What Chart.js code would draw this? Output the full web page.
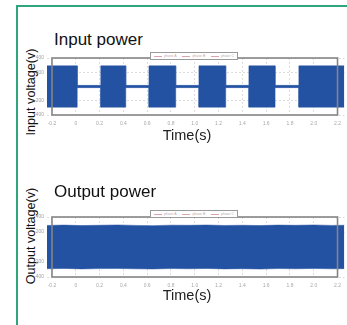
<!DOCTYPE html>
<html>
<head>
<meta charset="utf-8">
<script src="https://cdn.jsdelivr.net/npm/chart.js@4/dist/chart.umd.min.js"></script>
<style>
  html, body { margin: 0; padding: 0; background: #fff; }
  body { width: 347px; height: 325px; position: relative; overflow: hidden;
         font-family: 'Liberation Sans', Arial, sans-serif; }
  .frame-top { position: absolute; left: 16px; top: 5px; width: 331px; height: 2px; background: #2fa57c; }
  .frame-left { position: absolute; left: 16px; top: 5px; width: 2px; height: 320px; background: #2fa57c; }
  .title { position: absolute; left: 54px; font-size: 17px; color: #111; line-height: 1; }
  .ylab { position: absolute; font-size: 12.6px; color: #111; white-space: nowrap; line-height: 1;
          transform: translate(-50%, -50%) rotate(-90deg); }
  .xlab { position: absolute; font-size: 14.5px; color: #222; line-height: 1; transform: translateX(-50%); }
  .box { position: absolute; width: 347px; height: 160px; left: 0; }
  .legend { position: absolute; left: 150px; width: 86px; height: 6px; background: #fff;
            border: 1px solid #9a9a9a; display: flex; align-items: center; justify-content: space-around;
            font-size: 3.5px; color: #b9a9ad; }
  .legend span::before { content: ''; display: inline-block; width: 8px; height: 1px;
                         background: #d9a3ad; vertical-align: middle; margin-right: 2px; }
</style>
</head>
<body>
<div class="frame-top"></div>
<div class="frame-left"></div>

<div class="title" style="top:31px">Input power</div>
<div class="ylab" style="left:31px; top:92px">Input voltage(v)</div>
<div class="box" style="top:0"><canvas id="inputChart"></canvas></div>
<div class="xlab" style="left:187px; top:128px">Time(s)</div>
<div class="legend" style="top:52px"><span>phase A</span><span>phase B</span><span>phase C</span></div>

<div class="title" style="top:183px">Output power</div>
<div class="ylab" style="left:31px; top:236px">Output voltage(v)</div>
<div class="box" style="top:160px"><canvas id="outputChart"></canvas></div>
<div class="xlab" style="left:187px; top:288px">Time(s)</div>
<div class="legend" style="top:210px"><span>phase A</span><span>phase B</span><span>phase C</span></div>

<script>
// axis ticks
const xTicks = [-0.2, 0, 0.2, 0.4, 0.6, 0.8, 1, 1.2, 1.4, 1.6, 1.8, 2, 2.2];
const yTicks = [-400, -200, 200, 400];

// input voltage envelope (switching on/off bursts)
const inputTime  = [-0.242, 0.012, 0.012, 0.21, 0.21, 0.42, 0.42, 0.615, 0.615, 0.84, 0.84, 1.035, 1.035, 1.26, 1.26, 1.455, 1.455, 1.675, 1.675, 1.875, 1.875, 2.258];
const inputUpper = [290, 290, 16, 16, 290, 290, 16, 16, 290, 290, 16, 16, 290, 290, 16, 16, 290, 290, 16, 16, 290, 290];
const inputLower = [-290, -290, -16, -16, -290, -290, -16, -16, -290, -290, -16, -16, -290, -290, -16, -16, -290, -290, -16, -16, -290, -290];

// output voltage envelope (steady with small ripple)
const outputTime  = [-0.242, -0.1, 0.05, 0.2, 0.35, 0.5, 0.65, 0.8, 0.95, 1.1, 1.25, 1.4, 1.55, 1.7, 1.85, 2.0, 2.15, 2.258];
const outputUpper = [288, 292, 286, 290, 294, 288, 285, 291, 289, 293, 287, 290, 286, 292, 289, 294, 288, 290];
const outputLower = [-290, -286, -292, -288, -285, -291, -293, -287, -290, -286, -292, -289, -294, -287, -290, -286, -291, -289];

const BLUE = '#2452a3';

const frameBox = {
  id: 'frameBox',
  afterDraw(chart) {
    const { ctx, chartArea, scales } = chart;
    const l = scales.x.getPixelForValue(xTicks[0]);
    const r = scales.x.getPixelForValue(xTicks[xTicks.length - 1]);
    ctx.save();
    ctx.strokeStyle = '#858585';
    ctx.lineWidth = 1.6;
    ctx.strokeRect(l, chartArea.top, r - l, chartArea.bottom - chartArea.top);
    ctx.restore();
  }
};

function makeChart(id, time, upper, lower, topPad, bottomH) {
  const pts = (arr) => time.map((t, i) => ({ x: t, y: arr[i] }));
  return new Chart(document.getElementById(id), {
    type: 'line',
    data: {
      datasets: [
        { data: pts(upper), borderColor: BLUE, borderWidth: 0.5, pointRadius: 0, tension: 0, fill: false },
        { data: pts(lower), borderColor: BLUE, borderWidth: 0.5, pointRadius: 0, tension: 0,
          fill: '-1', backgroundColor: BLUE },
      ],
    },
    options: {
      responsive: true,
      maintainAspectRatio: false,
      animation: false,
      layout: { padding: { left: 0, right: 0, top: topPad, bottom: 0 } },
      plugins: { legend: { display: false }, tooltip: { enabled: false } },
      scales: {
        x: {
          type: 'linear',
          min: -0.242,
          max: 2.258,
          afterBuildTicks: (s) => { s.ticks = xTicks.map(v => ({ value: v })); },
          afterFit: (s) => { s.height = bottomH; },
          ticks: { color: '#a8a8a8', font: { size: 5 }, padding: 6, maxRotation: 0, autoSkip: false },
          grid: { color: '#d4d4d4', drawTicks: false, lineWidth: 0.8 },
          border: { display: false, dash: [2, 2] },
        },
        y: {
          min: -400,
          max: 400,
          afterBuildTicks: (s) => { s.ticks = yTicks.map(v => ({ value: v })); },
          afterFit: (s) => { s.width = 47; },
          ticks: { color: '#a0a0a0', font: { size: 5 }, padding: 3 },
          grid: { color: '#d4d4d4', drawTicks: false, lineWidth: 0.8 },
          border: { display: false, dash: [2, 2] },
        },
      },
    },
    plugins: [frameBox],
  });
}

makeChart('inputChart', inputTime, inputUpper, inputLower, 58, 45);
makeChart('outputChart', outputTime, outputUpper, outputLower, 57, 43);
</script>
</body>
</html>
